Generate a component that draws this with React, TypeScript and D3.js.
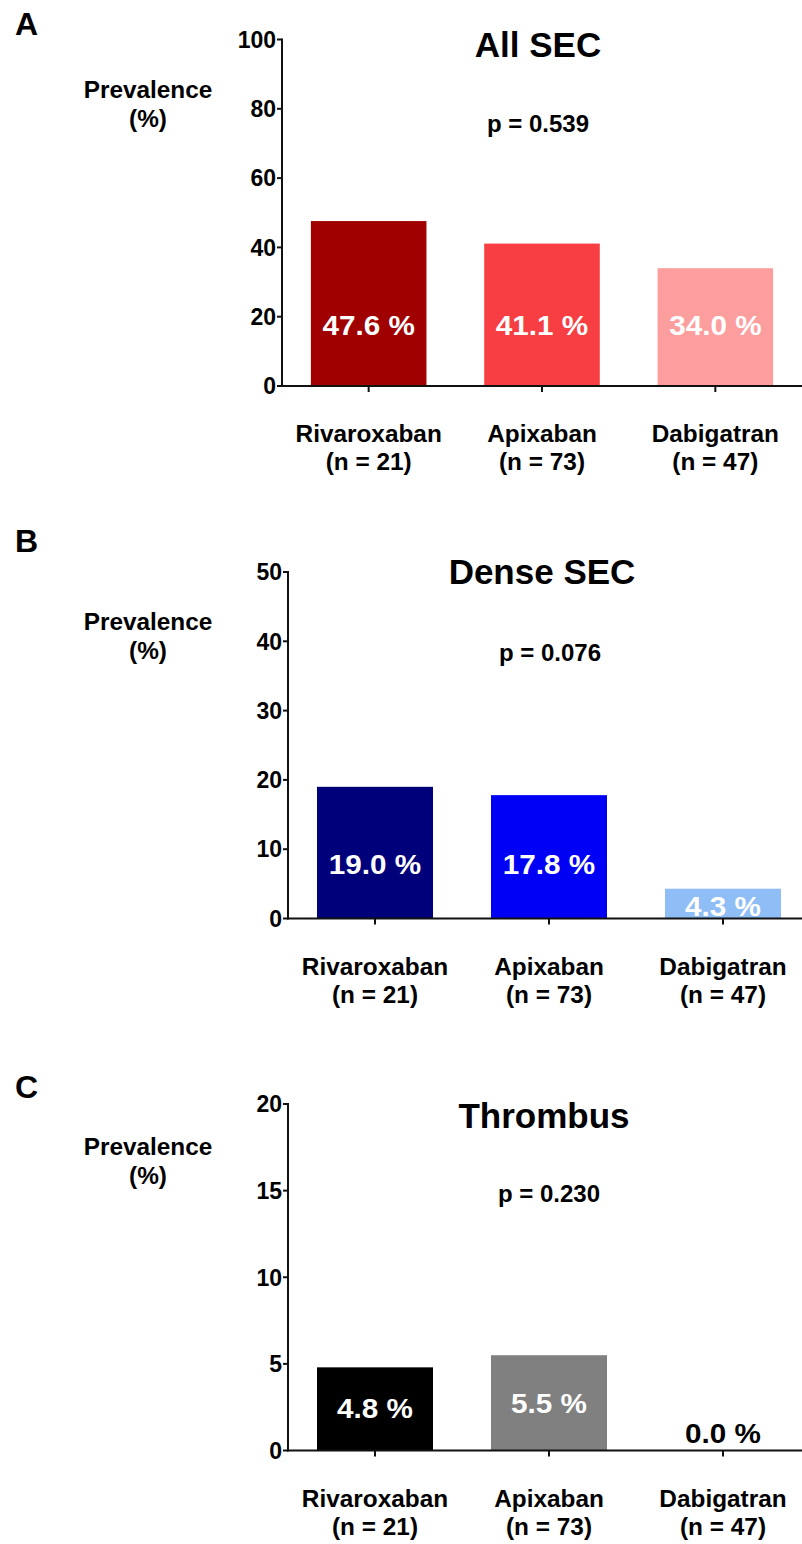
import React from 'react';
import * as d3 from 'd3';

const categories = ['Rivaroxaban', 'Apixaban', 'Dabigatran'];
const sampleSizes = [21, 73, 47];

const allSec = [47.6, 41.1, 34.0];
const denseSec = [19.0, 17.8, 4.3];
const thrombus = [4.8, 5.5, 0.0];

const panelLetters = ['A', 'B', 'C'];
const panelTitles = ['All SEC', 'Dense SEC', 'Thrombus'];
const pValues = ['0.539', '0.076', '0.230'];
const yMaxes = [100, 50, 20];

const FONT = '"Liberation Sans", Arial, Helvetica, sans-serif';
const WIDTH = 802;
const HEIGHT = 1544;
const PLOT_H = 346.5;
const STRETCH = 1.06;

// layout for each panel (pixels), kept apart from the values
const layouts = [
  {
    values: allSec, top: 39.5, axisX: 282, right: 802,
    letterY: 35, ylabY: 98, titleX: 538, titleY: 57, pX: 538, pY: 132,
    labelAt: [14.7, 14.7, 14.7],
    colors: ['#a00000', '#f73e42', '#fc9e9e'],
    labelColors: ['#fff', '#fff', '#fff']
  },
  {
    values: denseSec, top: 572, axisX: 288, right: 810,
    letterY: 552, ylabY: 630, titleX: 542, titleY: 584, pX: 550, pY: 661,
    labelAt: [6.4, 6.4, 0.35],
    colors: ['#00007b', '#0000f5', '#8fbdf5'],
    labelColors: ['#fff', '#fff', '#fff']
  },
  {
    values: thrombus, top: 1104, axisX: 288, right: 810,
    letterY: 1098, ylabY: 1155, titleX: 544, titleY: 1128, pX: 549, pY: 1202,
    labelAt: [1.87, 2.19, 0.46],
    colors: ['#000000', '#808080', '#808080'],
    labelColors: ['#fff', '#fff', '#000']
  }
];

// bold text, slightly widened like the original
function Wide({x, y, size, fill = '#000', children}: any) {
  return (
    <text transform={`translate(${x},${y}) scale(${STRETCH},1)`}
      fontSize={size} fontWeight="bold" textAnchor="middle" fill={fill}>
      {children}
    </text>
  );
}

function Panel({index}: {index: number}) {
  const lay = layouts[index];
  const bottom = lay.top + PLOT_H;

  const x = d3.scaleBand<string>()
    .domain(categories)
    .range([lay.axisX, lay.right])
    .paddingInner(1 / 3)
    .paddingOuter(1 / 6);

  const y = d3.scaleLinear()
    .domain([0, yMaxes[index]])
    .range([bottom, lay.top]);

  const ticks = y.ticks(5);

  return (
    <g>
      <text x={15} y={lay.letterY} fontSize={32} fontWeight="bold">{panelLetters[index]}</text>

      <Wide x={148} y={lay.ylabY} size={23}>Prevalence</Wide>
      <Wide x={148} y={lay.ylabY + 29} size={23}>(%)</Wide>

      <text x={lay.titleX} y={lay.titleY} fontSize={35} fontWeight="bold" textAnchor="middle">{panelTitles[index]}</text>
      <text x={lay.pX} y={lay.pY} fontSize={24} fontWeight="bold" textAnchor="middle">{`p = ${pValues[index]}`}</text>

      {lay.values.map((v, i) => (
        <rect key={'bar' + i}
          x={x(categories[i])}
          y={y(v)}
          width={x.bandwidth()}
          height={bottom - y(v)}
          fill={lay.colors[i]} />
      ))}

      {lay.values.map((v, i) => (
        <Wide key={'val' + i}
          x={(x(categories[i]) as number) + x.bandwidth() / 2}
          y={y(lay.labelAt[i])}
          size={28}
          fill={lay.labelColors[i]}>
          {`${v.toFixed(1)} %`}
        </Wide>
      ))}

      {/* y axis */}
      <line x1={lay.axisX} x2={lay.axisX} y1={lay.top - 1} y2={bottom + 1} stroke="#111" strokeWidth={2} />
      {ticks.map(t => (
        <g key={'yt' + t}>
          <line x1={lay.axisX - 5} x2={lay.axisX} y1={y(t)} y2={y(t)} stroke="#111" strokeWidth={2} />
          <text x={lay.axisX - 6} y={y(t)} dy="0.36em" fontSize={23} fontWeight="bold" textAnchor="end">{t}</text>
        </g>
      ))}

      {/* x axis */}
      <line x1={lay.axisX - 1} x2={WIDTH} y1={bottom} y2={bottom} stroke="#111" strokeWidth={2} />
      {categories.map((c, i) => {
        const cx = (x(c) as number) + x.bandwidth() / 2;
        return (
          <g key={'xt' + c}>
            <line x1={cx} x2={cx} y1={bottom} y2={bottom + 6} stroke="#111" strokeWidth={2} />
            <Wide x={cx} y={bottom + 56} size={23}>{c}</Wide>
            <Wide x={cx} y={bottom + 84} size={23}>{`(n = ${sampleSizes[i]})`}</Wide>
          </g>
        );
      })}
    </g>
  );
}

export default function App() {
  return (
    <svg width={WIDTH} height={HEIGHT}
      style={{position: 'absolute', left: 0, top: 0, background: '#fff'}}
      fontFamily={FONT}>
      <rect width={WIDTH} height={HEIGHT} fill="#fff" />
      {layouts.map((_, i) => <Panel key={i} index={i} />)}
    </svg>
  );
}
